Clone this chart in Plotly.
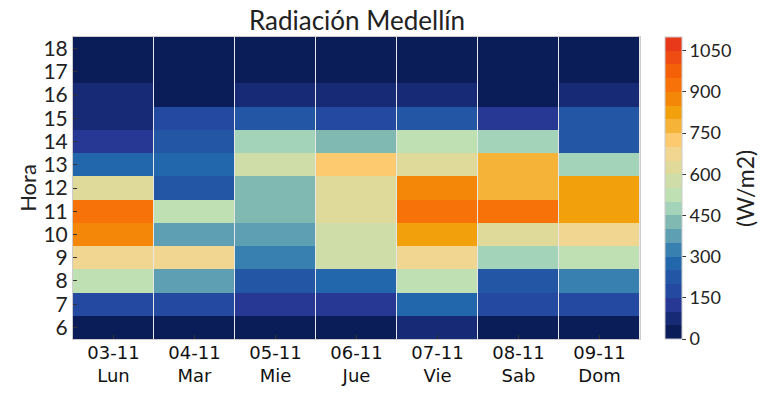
import plotly.graph_objects as go

days = ["03-11<br>Lun", "04-11<br>Mar", "05-11<br>Mie", "06-11<br>Jue",
        "07-11<br>Vie", "08-11<br>Sab", "09-11<br>Dom"]
hours = [6, 7, 8, 9, 10, 11, 12, 13, 14, 15, 16, 17, 18]

lun = [25, 175, 525, 675, 875, 925, 625, 275, 125, 75, 75, 25, 25]
mar = [25, 175, 375, 675, 375, 525, 225, 275, 225, 175, 25, 25, 25]
mie = [25, 125, 225, 325, 375, 425, 425, 575, 475, 225, 75, 25, 25]
jue = [25, 125, 275, 575, 575, 625, 625, 725, 425, 175, 75, 25, 25]
vie = [75, 275, 525, 675, 825, 925, 875, 625, 525, 225, 75, 25, 25]
sab = [25, 175, 225, 475, 625, 925, 775, 775, 475, 125, 25, 25, 25]
dom = [25, 175, 325, 525, 675, 825, 825, 475, 225, 225, 75, 25, 25]

band_colors = ["#0a1d58", "#162a76", "#263894", "#2349a0", "#2357a5", "#2267ab",
               "#3880b0", "#5e9fb3", "#80b8b2", "#a3d3b8", "#bfe0b3", "#cfdda8",
               "#dfd99a", "#f0d690", "#fdca70", "#f5b437", "#f2a10c", "#f48708",
               "#f77208", "#f46008", "#ee4c12", "#e8391a"]
cb_ticks = [0, 150, 300, 450, 600, 750, 900, 1050]

n = len(band_colors)
colorscale = []
for i, c in enumerate(band_colors):
    colorscale.append([i / n, c])
    colorscale.append([(i + 1) / n, c])

cols = [lun, mar, mie, jue, vie, sab, dom]
z = [[cols[d][h] for d in range(len(days))] for h in range(len(hours))]

fig = go.Figure(go.Heatmap(
    z=z, x=days, y=hours, zmin=0, zmax=1100, colorscale=colorscale,
    xgap=1, ygap=0,
    colorbar=dict(
        tickvals=cb_ticks, ticks="outside", ticklen=4, tickcolor="#333",
        thickness=17, len=1, lenmode="fraction", y=0.5, yanchor="middle",
        x=1.044, xanchor="left", xpad=0, ypad=0,
        outlinecolor="#cccccc", outlinewidth=1,
        tickfont=dict(family="Lato", size=18, color="#222"),
    ),
))

fig.add_annotation(
    text="(W/m2)", textangle=-90, xref="paper", yref="paper",
    x=1.185, y=0.5, xanchor="center", yanchor="middle", showarrow=False,
    font=dict(family="Lato", size=23, color="#222"),
)

fig.update_layout(
    width=767, height=395,
    margin=dict(l=65, r=135, t=29, b=64, autoexpand=False),
    paper_bgcolor="white", plot_bgcolor="#e6e6e6",
    title=dict(text="Radiación Medellín", x=0.455, xanchor="center", y=0.968, yanchor="middle",
               font=dict(family="Lato", size=26, color="#222")),
)
fig.update_xaxes(
    showgrid=False, ticks="inside", ticklen=4, tickcolor="#333",
    showline=True, linecolor="#cccccc", mirror=True, automargin=False,
    ticklabelstandoff=-3,
    tickfont=dict(family="DejaVu Sans", size=18, color="#111"),
)
fig.update_yaxes(
    showgrid=False, ticks="inside", ticklen=4, tickcolor="#333",
    showline=True, linecolor="#cccccc", mirror=True, automargin=False,
    tickvals=hours, tickfont=dict(family="Lato", size=21, color="#222"),
    title=dict(text="Hora", font=dict(family="Lato", size=22, color="#222"), standoff=0),
)

fig.write_html("out.html")
